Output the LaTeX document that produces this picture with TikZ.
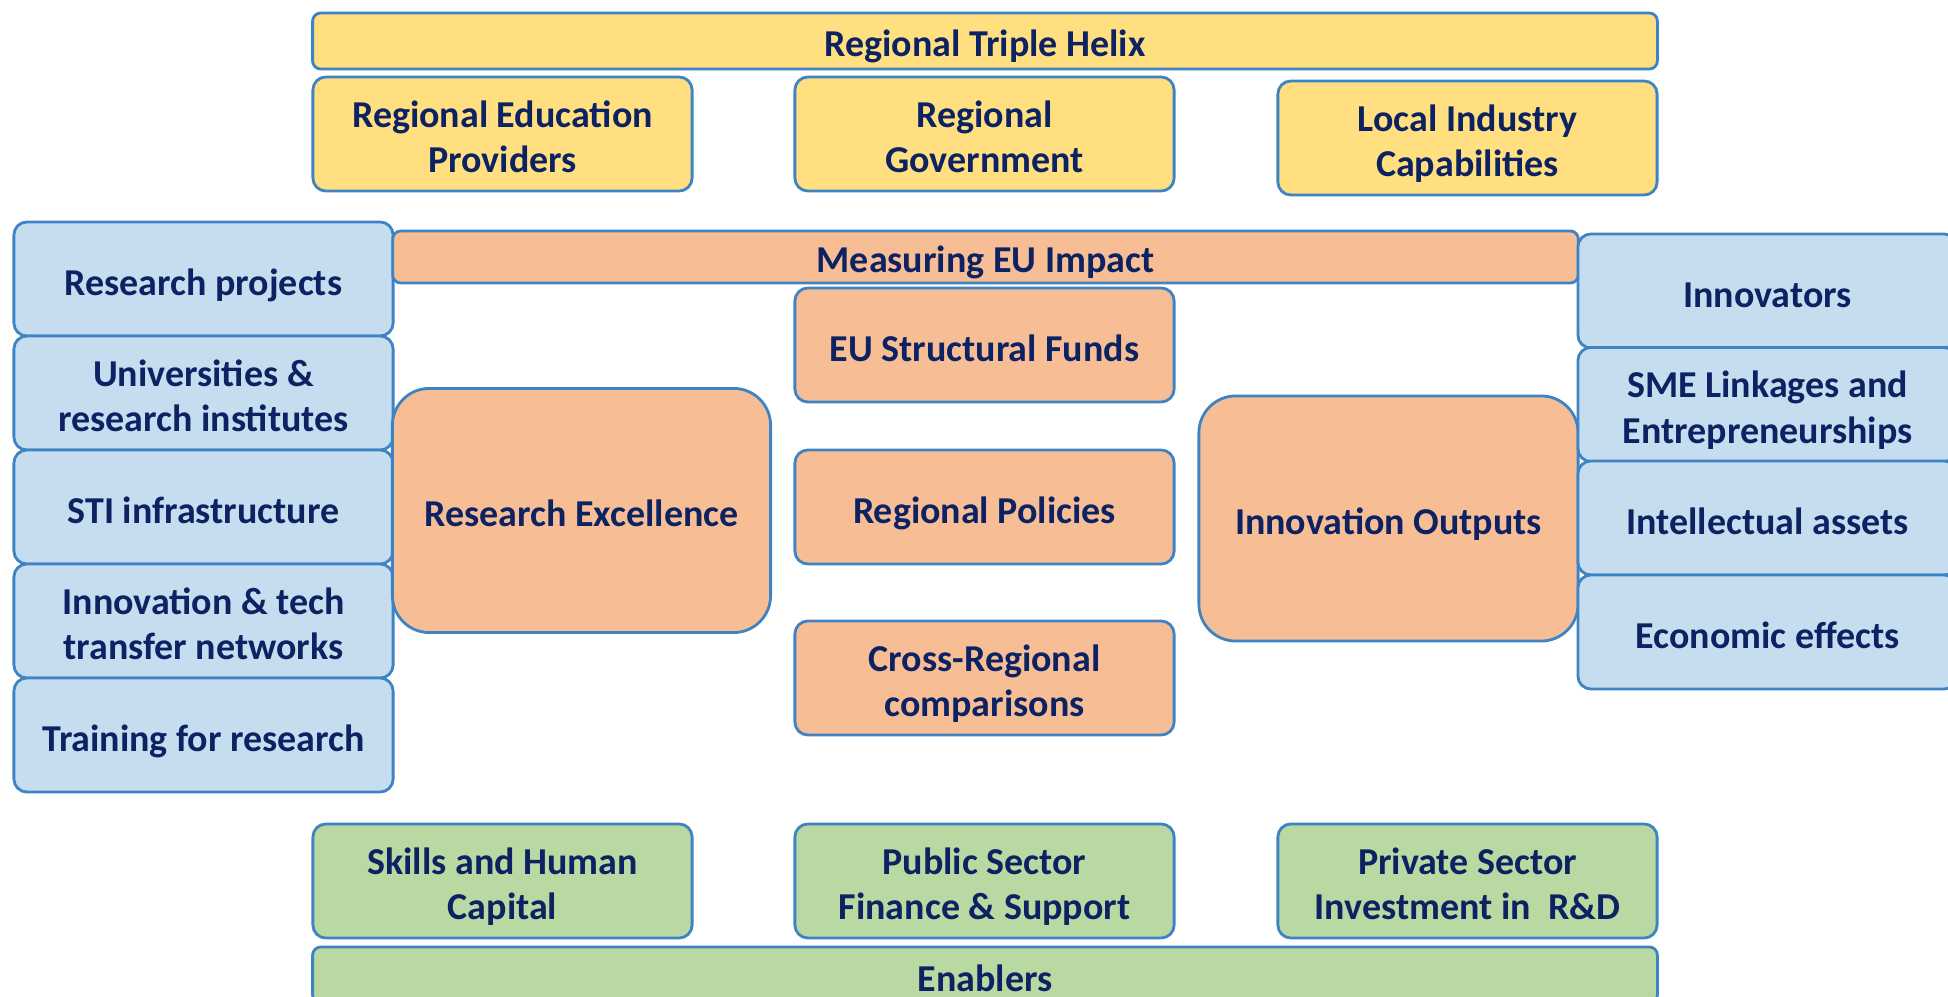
\documentclass[tikz,border=0pt]{standalone}
\usepackage{fontspec}
\setmainfont{Carlito}
\usepackage{xcolor}
\usepackage{tikz}
\definecolor{helixyellow}{HTML}{FFDF80}
\definecolor{impactorange}{HTML}{F7BE96}
\definecolor{indicatorblue}{HTML}{C6DDF0}
\definecolor{enablergreen}{HTML}{B9D8A2}
\definecolor{boxline}{HTML}{3E84C4}
\definecolor{textnavy}{HTML}{0C2262}

\begin{document}
\begin{tikzpicture}[x=0.01cm, y=-0.01cm,
  box/.style={draw=boxline, line width=0.8pt, rounded corners=3.7pt, text=textnavy,
    font=\fontsize{10.8}{12.8}\selectfont\bfseries, align=center, inner sep=0pt,
    minimum width=3.79cm, minimum height=1.14cm, text height=11.5pt, text depth=2.4pt},
  twoline/.style={text height=24.3pt},
  helixbox/.style={box, fill=helixyellow},
  impactbox/.style={box, fill=impactorange},
  indicatorbox/.style={box, fill=indicatorblue},
  enablerbox/.style={box, fill=enablergreen},
  bigbox/.style={impactbox, rounded corners=10.5pt, minimum width=3.78cm, minimum height=2.44cm},
  bar/.style={rounded corners=2.3pt, minimum width=13.44cm, minimum height=0.56cm}]
  \useasboundingbox (0,0) rectangle (1948,997);
  \clip (0,0) rectangle (1948,997);
  \node[helixbox, bar] (helix) at (985,41) {Regional Triple Helix};
  \node[helixbox, twoline] (education) at (502.5,134) {Regional Education\\Providers};
  \node[helixbox, twoline] (government) at (984.5,134) {Regional\\Government};
  \node[helixbox, twoline] (industry) at (1467.5,138) {Local Industry\\Capabilities};
  \node[indicatorbox] (projects) at (203.5,279) {Research projects};
  \node[indicatorbox, twoline] (universities) at (203.5,393) {Universities \&\\research institutes};
  \node[indicatorbox] (sti) at (203.5,507) {STI infrastructure};
  \node[indicatorbox, twoline] (networks) at (203.5,621) {Innovation \& tech\\transfer networks};
  \node[indicatorbox] (training) at (203.5,735) {Training for research};
  \node[impactbox, bar, minimum width=11.85cm, minimum height=0.52cm] (impact) at (985.5,257) {Measuring EU Impact};
  \node[impactbox] (funds) at (984.5,345) {EU Structural Funds};
  \node[impactbox] (policies) at (984.5,507) {Regional Policies};
  \node[impactbox, twoline] (comparisons) at (984.5,678) {Cross-Regional\\comparisons};
  \node[bigbox] (excellence) at (581.5,510.5) {Research Excellence};
  \node[bigbox, minimum width=3.79cm, minimum height=2.45cm] (outputs) at (1388.5,518.5) {Innovation Outputs};
  \node[indicatorbox] (innovators) at (1767.5,291) {Innovators};
  \node[indicatorbox, twoline] (sme) at (1767.5,404.5) {SME Linkages and\\Entrepreneurships};
  \node[indicatorbox] (assets) at (1767.5,518) {Intellectual assets};
  \node[indicatorbox] (effects) at (1767.5,632) {Economic effects};
  \node[enablerbox, twoline] (skills) at (502.5,881) {Skills and Human\\Capital};
  \node[enablerbox, twoline] (public) at (984.5,881) {Public Sector\\Finance \& Support};
  \node[enablerbox, twoline] (private) at (1467.5,881) {Private Sector\\Investment in~ R\&D};
  \node[enablerbox, bar] (enablers) at (985,975) {Enablers};
\end{tikzpicture}
\end{document}
